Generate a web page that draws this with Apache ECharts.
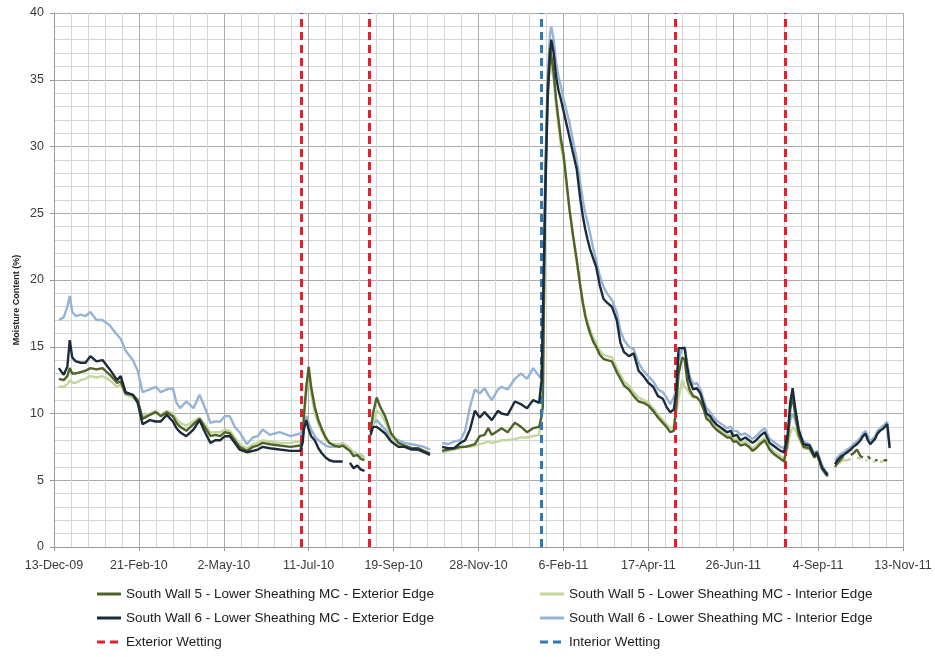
<!DOCTYPE html>
<html>
<head>
<meta charset="utf-8">
<script src="https://cdn.jsdelivr.net/npm/echarts@6/dist/echarts.min.js"></script>
<style>
  html, body { margin: 0; padding: 0; background: #fff; }
  #chart { width: 935px; height: 657px; }
</style>
</head>
<body>
<div id="chart"></div>
<script>
// Days since 13-Dec-09 (x positions of the readings)
const dayOffsets = [
  4, 8, 11, 13, 15, 18, 22, 26, 30, 35, 40, 46, 52, 55, 59, 65, 69, 73, 79, 84, 88, 93, 98, 101, 104, 109, 115, 120, 125, 129, 133, 137, 141, 145, 149, 153, 159, 164, 168, 172, 178, 186, 195, 203,
  205, 206, 208, 210, 212, 215, 218, 221, 224, 227, 231, 235, 238, 241, 244, 247, 250, 253, 256,
  259,
  261, 263, 266, 269, 273, 278, 284, 289, 295, 300, 305, 310, 315, 320, 325, 330, 335, 339, 343, 347, 351, 355, 358, 361, 366, 369, 374, 380, 385, 390, 395, 400, 402,
  403, 405, 407, 409, 410, 412, 414, 416, 418, 420, 423, 425, 428, 431, 434, 436, 438, 440, 442, 445, 447, 450, 453, 456, 460, 464, 467, 470, 474, 478, 482, 486, 490, 494, 498, 502, 505, 508, 511,
  513, 515, 518, 520, 522, 524, 527, 530, 533, 536, 538, 541, 543, 546, 549, 552, 555, 558, 560, 563, 566, 570, 573, 576, 579, 582, 586, 590, 593, 596, 599, 602,
  605, 607, 609, 611, 614, 618, 623, 627, 629, 633, 636, 638,
  641,
  644, 646, 649, 651, 654, 657, 659, 662, 665, 667, 669, 671, 673, 675, 677, 679, 681, 684, 687, 688, 689
];

const sw5Exterior = [
  12.6, 12.5, 12.8, 13.4, 13.0, 13.0, 13.1, 13.2, 13.4, 13.3, 13.4, 12.9, 12.3, 12.4, 11.5, 11.4, 11.0, 9.6, 9.9, 10.1, 9.8, 10.1, 9.8, 9.3, 9.0, 8.7, 9.2, 9.6, 8.9, 8.3, 8.4, 8.3, 8.6, 8.5, 8.0, 7.5, 7.2, 7.5, 7.6, 7.8, 7.7, 7.6, 7.5, 7.6,
  8.0, 9.8, 12.0, 13.5, 12.0, 10.5, 9.5, 8.8, 8.2, 7.8, 7.6, 7.5, 7.6, 7.4, 7.2, 6.8, 6.9, 6.6, 6.5,
  null,
  8.6, 10.0, 11.2, 10.5, 9.8, 8.5, 7.8, 7.6, 7.4, 7.4, 7.2, 7.0, null, 7.2, 7.3, 7.4, 7.5, 7.5, 7.6, 7.7, 8.3, 8.4, 8.9, 8.4, 8.7, 8.9, 8.6, 9.3, 9.0, 8.6, 8.9, 9.0, 9.8,
  10.5, 27.0, 34.5, 37.4, 36.8, 35.5, 33.5, 32.0, 30.5, 29.5, 27.0, 25.3, 23.3, 21.5, 19.5, 18.3, 17.3, 16.6, 16.0, 15.3, 15.0, 14.4, 14.1, 14.0, 13.9, 13.1, 12.6, 12.1, 11.8, 11.3, 10.9, 10.8, 10.6, 10.2, 9.7, 9.3, 9.0, 8.6, 8.7,
  10.5, 13.0, 14.2, 14.0, 12.5, 11.8, 11.3, 11.2, 10.9, 10.2, 9.6, 9.4, 9.1, 8.8, 8.6, 8.4, 8.2, 8.2, 7.9, 7.9, 7.6, 7.7, 7.5, 7.2, 7.4, 7.7, 8.0, 7.3, 7.0, 6.8, 6.6, 6.4,
  8.0, 10.3, 11.3, 10.0, 8.4, 7.5, 7.4, 6.7, 7.0, 5.9, 5.5, 5.3,
  null,
  6.0, 6.3, 6.6, 6.8, null, 6.9, 7.0, 7.3, 6.8, 6.7, null, 6.8, 6.6, null, 6.5, 6.5, null, 6.5, 6.5, null, null
];

const sw5Interior = [
  12.0, 12.0, 12.2, 12.5, 12.3, 12.3, 12.5, 12.6, 12.8, 12.7, 12.8, 12.5, 12.0, 12.2, 11.4, 11.2, 10.9, 9.8, 10.0, 10.2, 9.9, 10.2, 10.0, 9.6, 9.3, 9.1, 9.4, 9.7, 9.1, 8.6, 8.6, 8.6, 8.8, 8.7, 8.2, 7.7, 7.4, 7.7, 7.8, 8.0, 7.9, 7.8, 7.8, 7.9,
  8.2, 9.5, 11.5, 12.8, 11.5, 10.0, 9.2, 8.6, 8.1, 7.8, 7.7, 7.7, 7.8, 7.6, 7.4, 7.0, 7.0, 6.8, 6.7,
  null,
  8.3, 9.2, 10.2, 10.0, 9.4, 8.3, 7.7, 7.6, 7.4, 7.4, 7.2, 7.0, null, 7.1, 7.2, 7.3, 7.4, 7.5, 7.5, 7.6, 7.7, 7.8, 7.9, 7.8, 7.9, 8.0, 8.0, 8.1, 8.2, 8.2, 8.3, 8.4, 10.0,
  10.5, 26.0, 34.0, 36.4, 36.0, 35.0, 33.0, 31.5, 30.0, 29.0, 26.8, 25.3, 23.2, 21.3, 19.5, 18.4, 17.5, 16.8, 16.3, 15.6, 15.3, 14.7, 14.4, 14.3, 14.2, 13.4, 12.9, 12.4, 12.1, 11.6, 11.2, 11.0, 10.8, 10.4, 9.9, 9.5, 9.2, 8.9, 9.0,
  10.0, 11.2, 12.5, 12.0, 11.8, 11.5, 11.2, 11.2, 11.0, 10.3, 9.8, 9.6, 9.3, 9.0, 8.8, 8.6, 8.4, 8.4, 8.1, 8.1, 7.8, 7.9, 7.7, 7.4, 7.6, 7.9, 8.2, 7.5, 7.2, 7.0, 6.8, 6.6,
  7.5, 8.5, 9.0, 8.8, 8.2, 7.4, 7.3, 6.7, 6.9, 5.9, 5.5, 5.3,
  null,
  null, 6.2, 6.4, 6.5, 6.5, 6.6, null, 6.7, 6.6, null, 6.5, 6.5, null, 6.4, 6.4, null, 6.4, 6.4, null, null, null
];

const sw6Exterior = [
  13.4, 12.9, 13.5, 15.5, 14.2, 13.9, 13.8, 13.8, 14.3, 13.9, 14.0, 13.3, 12.5, 12.8, 11.6, 11.4, 10.8, 9.2, 9.5, 9.4, 9.4, 9.9, 9.4, 8.9, 8.6, 8.3, 8.8, 9.5, 8.5, 7.8, 8.0, 8.0, 8.3, 8.3, 7.8, 7.3, 7.1, 7.2, 7.3, 7.5, 7.4, 7.3, 7.2, 7.2,
  7.8, 8.8, 9.5, 8.8, 8.3, 8.0, 7.4, 7.0, 6.7, 6.5, 6.4, 6.4, 6.4, null, 6.3, 5.9, 6.1, 5.8, 5.7,
  null,
  8.4, 9.0, 9.0, 8.8, 8.5, 7.9, 7.5, 7.5, 7.3, 7.3, 7.1, 6.9, null, 7.5, 7.4, 7.4, 7.8, 8.0, 8.8, 10.2, 9.7, 10.1, 9.8, 9.5, 10.2, 10.0, 9.9, 10.9, 10.7, 10.4, 11.0, 10.8, 12.5,
  12.5, 26.0, 33.5, 37.0, 38.0, 37.0, 35.2, 34.2, 33.5, 32.7, 31.5, 30.7, 29.5, 28.3, 26.0, 24.8, 23.8, 23.0, 22.3, 21.5, 21.0, 19.6, 18.6, 18.3, 18.0, 17.0, 15.3, 14.6, 14.3, 14.5, 13.2, 12.8, 12.3, 12.0, 11.3, 11.1, 10.5, 10.1, 10.3,
  11.5, 14.9, 14.9, 14.9, 13.5, 12.5, 11.8, 11.9, 11.5, 10.6, 10.0, 9.8, 9.5, 9.2, 9.0, 8.8, 8.6, 8.7, 8.3, 8.4, 8.0, 8.2, 8.0, 7.8, 8.0, 8.3, 8.6, 7.8, 7.6, 7.4, 7.2, 7.1,
  8.5, 10.8, 11.9, 10.5, 8.8, 7.7, 7.6, 6.8, 7.1, 6.0, 5.6, 5.4,
  null,
  6.2, 6.5, 6.8, 6.9, 7.1, 7.3, 7.5, 7.7, 8.0, 8.3, 8.5, 8.0, 7.7, 7.9, 8.1, 8.5, 8.7, 8.9, 9.2, 9.3, 7.4
];

const sw6Interior = [
  17.0, 17.2, 18.0, 18.8, 17.6, 17.3, 17.4, 17.3, 17.6, 17.0, 17.0, 16.6, 15.9, 15.6, 14.7, 14.0, 13.2, 11.6, 11.8, 12.0, 11.6, 11.8, 11.9, 10.8, 10.4, 10.9, 10.4, 11.4, 10.3, 9.3, 9.4, 9.4, 9.8, 9.8, 9.0, 8.6, 7.7, 8.2, 8.3, 8.8, 8.4, 8.6, 8.3, 8.5,
  8.8, 9.2, 9.8, 9.3, 8.8, 8.3, 8.0, 7.8, 7.6, 7.5, 7.5, 7.6, 7.8, 7.6, 7.3, 7.1, 7.0, 6.9, 6.7,
  null,
  8.6, 9.2, 9.5, 9.2, 8.8, 8.2, 8.0, 7.8, 7.7, 7.6, 7.5, 7.3, null, 7.8, 7.7, 7.9, 8.0, 8.7, 10.5, 11.8, 11.5, 11.9, 11.4, 11.0, 11.8, 12.0, 11.8, 12.6, 13.0, 12.6, 13.4, 12.8, 12.6,
  13.0, 28.0, 35.0, 38.5, 39.0, 38.0, 36.3, 35.2, 34.5, 33.6, 32.5, 31.8, 30.4, 29.0, 27.2, 26.0, 25.0, 24.3, 23.5, 22.2, 21.5, 20.3, 19.5, 19.0, 18.5, 17.6, 16.2, 15.5, 15.0, 14.8, 13.8, 13.2, 12.8, 12.4, 11.8, 11.6, 11.2, 10.7, 11.2,
  11.8, 14.0, 14.9, 15.0, 13.8, 12.8, 12.2, 12.3, 11.8, 10.9, 10.4, 10.1, 9.8, 9.5, 9.3, 9.1, 8.9, 9.0, 8.7, 8.7, 8.4, 8.5, 8.3, 8.1, 8.3, 8.6, 8.9, 8.1, 7.9, 7.7, 7.5, 7.4,
  8.3, 9.5, 10.0, 9.5, 8.6, 7.9, 7.7, 7.0, 7.2, 6.2, 5.7, 5.5,
  null,
  6.5, 6.7, 7.0, 7.1, 7.3, 7.5, 7.7, 7.9, 8.2, 8.5, 8.7, 8.3, 7.9, 8.1, 8.3, 8.7, 8.9, 9.1, 9.4, 9.5, 7.6
];

// Wetting events (days since 13-Dec-09)
const exteriorWettingDays = [204, 260, 512, 603];
const interiorWettingDays = [402];

// X tick labels, one every 70 days
const xTickLabels = ['13-Dec-09', '21-Feb-10', '2-May-10', '11-Jul-10', '19-Sep-10', '28-Nov-10',
  '6-Feb-11', '17-Apr-11', '26-Jun-11', '4-Sep-11', '13-Nov-11'];

const seriesNames = {
  sw5e: 'South Wall 5 - Lower Sheathing MC - Exterior Edge',
  sw5i: 'South Wall 5 - Lower Sheathing MC - Interior Edge',
  sw6e: 'South Wall 6 - Lower Sheathing MC - Exterior Edge',
  sw6i: 'South Wall 6 - Lower Sheathing MC - Interior Edge',
  extW: 'Exterior Wetting',
  intW: 'Interior Wetting'
};

const pair = arr => dayOffsets.map((d, i) => [d, arr[i] == null ? null : arr[i]]);
const FONT = "'Liberation Sans', Arial, sans-serif";
const SOLID_ICON = 'path://M0,0 L24,0 L24,3 L0,3 Z';
const DASH_ICON = 'path://M0,0 L8,0 L8,3 L0,3 Z M13,0 L21,0 L21,3 L13,3 Z M24,0 L24,3 L24,3 Z';

function dataLine(name, arr, color, z) {
  return {
    name, type: 'line', data: pair(arr), showSymbol: false, symbol: 'none',
    connectNulls: false, z,
    lineStyle: { color, width: 2.4 }, itemStyle: { color }
  };
}
function wettingLine(name, days, color) {
  return {
    name, type: 'line', data: [], symbol: 'none', z: 10,
    lineStyle: { color, width: 3, type: [8, 5] }, itemStyle: { color },
    markLine: {
      silent: true, symbol: ['none', 'none'], animation: false,
      label: { show: false },
      lineStyle: { color, width: 3, type: [8, 5] },
      data: days.map(d => ({ xAxis: d }))
    }
  };
}

const legendText = { fontSize: 13.5, color: '#1a1a1a', fontFamily: FONT };

const chart = echarts.init(document.getElementById('chart'), null, { renderer: 'canvas' });
chart.setOption({
  animation: false,
  backgroundColor: '#ffffff',
  grid: { left: 54, right: 32, top: 13, bottom: 110, containLabel: false },
  xAxis: {
    type: 'value', min: 0, max: 700, interval: 70,
    axisLine: { show: true, lineStyle: { color: '#9a9a9a', width: 1 } },
    axisTick: { show: true, length: 4, lineStyle: { color: '#9a9a9a' } },
    axisLabel: {
      margin: 12, color: '#3a3a3a', fontSize: 12.5, fontFamily: FONT,
      formatter: v => xTickLabels[Math.round(v / 70)] || ''
    },
    splitLine: { show: true, lineStyle: { color: '#ababab', width: 1 } },
    minorTick: { show: false, splitNumber: 5 },
    minorSplitLine: { show: true, lineStyle: { color: '#d6d6d6', width: 1 } }
  },
  yAxis: {
    type: 'value', min: 0, max: 40, interval: 5,
    axisLine: { show: true, lineStyle: { color: '#9a9a9a', width: 1 } },
    axisTick: { show: true, length: 4, lineStyle: { color: '#9a9a9a' } },
    axisLabel: { margin: 10, color: '#3a3a3a', fontSize: 12.5, fontFamily: FONT },
    splitLine: { show: true, lineStyle: { color: '#ababab', width: 1 } },
    minorTick: { show: false, splitNumber: 5 },
    minorSplitLine: { show: true, lineStyle: { color: '#d6d6d6', width: 1 } }
  },
  graphic: [{
    type: 'text', x: 17, y: 300, rotation: Math.PI / 2,
    style: {
      text: 'Moisture Content (%)', fill: '#222', font: "bold 9px 'Liberation Sans', Arial, sans-serif",
      textAlign: 'center', textVerticalAlign: 'middle'
    }
  }],
  legend: [
    {
      orient: 'vertical', left: 92, top: 582, itemWidth: 24, itemHeight: 3, itemGap: 10,
      textStyle: legendText,
      data: [
        { name: seriesNames.sw5e, icon: SOLID_ICON },
        { name: seriesNames.sw6e, icon: SOLID_ICON },
        { name: seriesNames.extW, icon: DASH_ICON }
      ]
    },
    {
      orient: 'vertical', left: 535, top: 582, itemWidth: 24, itemHeight: 3, itemGap: 10,
      textStyle: legendText,
      data: [
        { name: seriesNames.sw5i, icon: SOLID_ICON },
        { name: seriesNames.sw6i, icon: SOLID_ICON },
        { name: seriesNames.intW, icon: DASH_ICON }
      ]
    }
  ],
  series: [
    dataLine(seriesNames.sw6i, sw6Interior, '#95b3d7', 2),
    dataLine(seriesNames.sw5i, sw5Interior, '#c3d69b', 3),
    dataLine(seriesNames.sw5e, sw5Exterior, '#4f6228', 4),
    dataLine(seriesNames.sw6e, sw6Exterior, '#1c2b3c', 5),
    wettingLine(seriesNames.extW, exteriorWettingDays, '#e3202c'),
    wettingLine(seriesNames.intW, interiorWettingDays, '#2f78b4')
  ]
});
</script>
</body>
</html>
